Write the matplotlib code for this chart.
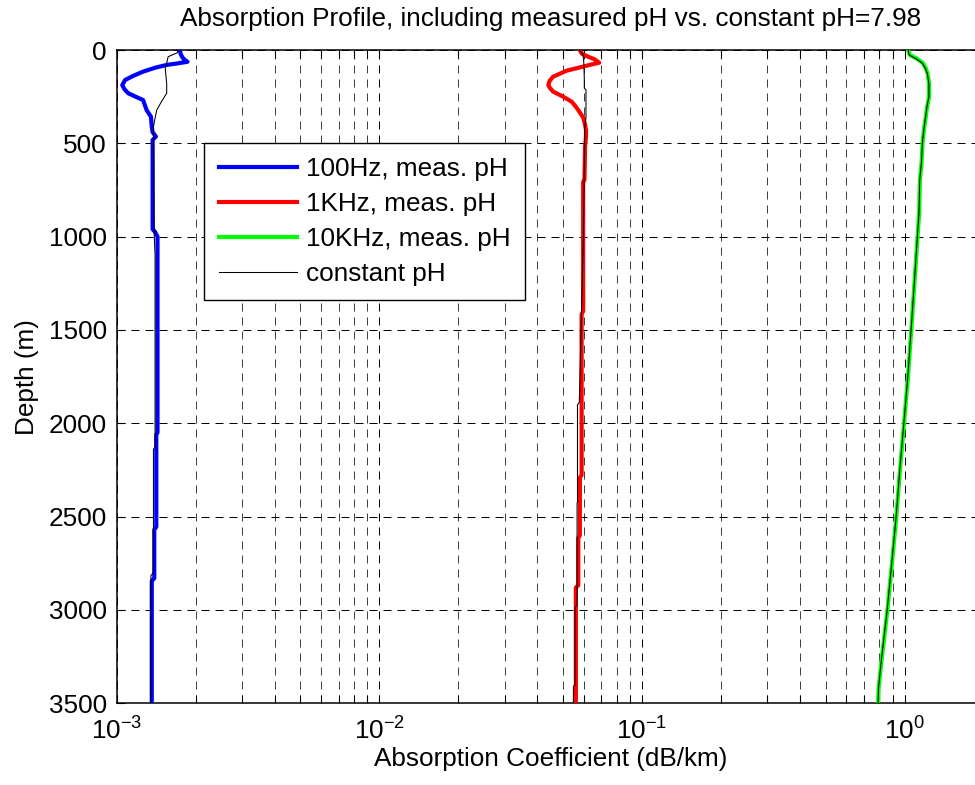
import matplotlib
matplotlib.use("Agg")
import matplotlib.pyplot as plt
from matplotlib.ticker import LogLocator, FixedLocator, NullFormatter

plt.rcParams["font.family"] = ["Liberation Sans", "DejaVu Sans"]
plt.rcParams["mathtext.fontset"] = "custom"
plt.rcParams["mathtext.rm"] = "Liberation Sans"
plt.rcParams["mathtext.it"] = "Liberation Sans:italic"
plt.rcParams["mathtext.bf"] = "Liberation Sans:bold"

# ---- absorption profiles (dB/km) versus depth (m) ----
depth_100 = [0, 20, 40, 54, 63, 72, 80, 95, 116, 140, 161, 188, 210, 232, 250, 268,
             295, 322, 357, 411, 440, 464, 482, 500, 960, 975, 1000, 2050, 2060,
             2555, 2570, 2830, 2845, 3500]
alpha_100 = [1.74e-3, 1.75e-3, 1.78e-3, 1.82e-3, 1.86e-3, 1.70e-3, 1.55e-3, 1.40e-3,
             1.26e-3, 1.15e-3, 1.076e-3, 1.05e-3, 1.07e-3, 1.107e-3, 1.18e-3, 1.26e-3,
             1.28e-3, 1.30e-3, 1.35e-3, 1.36e-3, 1.37e-3, 1.41e-3, 1.37e-3, 1.37e-3,
             1.37e-3, 1.40e-3, 1.43e-3, 1.43e-3, 1.415e-3, 1.415e-3, 1.39e-3, 1.39e-3,
             1.36e-3, 1.36e-3]

depth_100c = [0, 15, 36, 71, 98, 179, 232, 277, 322, 366, 411, 1000, 1100, 2126,
              2140, 2800, 2815, 3500]
alpha_100c = [1.716e-3, 1.70e-3, 1.57e-3, 1.55e-3, 1.53e-3, 1.55e-3, 1.55e-3, 1.48e-3,
              1.42e-3, 1.40e-3, 1.38e-3, 1.39e-3, 1.40e-3, 1.40e-3, 1.38e-3, 1.38e-3,
              1.35e-3, 1.35e-3]

depth_1k = [0, 20, 36, 50, 68, 78, 89, 111, 143, 165, 188, 205, 223, 250, 277, 300,
            322, 361, 400, 429, 464, 518, 697, 706, 1400, 1415, 2278, 2290, 2600,
            2615, 2868, 2880, 3500]
alpha_1k = [0.0580, 0.0590, 0.0624, 0.0660, 0.0687, 0.0640, 0.0597, 0.0516, 0.0459,
            0.0445, 0.0440, 0.0447, 0.0459, 0.0501, 0.0540, 0.0557, 0.0572, 0.0597,
            0.0607, 0.0612, 0.0612, 0.0607, 0.0604, 0.0597, 0.0597, 0.0589, 0.0589,
            0.0580, 0.0580, 0.0572, 0.0572, 0.0560, 0.0560]

depth_1kc = [0, 20, 60, 150, 205, 214, 361, 420, 500, 1000, 1768, 1889, 1900, 2421,
             2430, 2975, 2985, 3400, 3410, 3500]
alpha_1kc = [0.0578, 0.0595, 0.0600, 0.0603, 0.0603, 0.0612, 0.0612, 0.0605, 0.0605,
             0.0598, 0.0580, 0.0577, 0.0568, 0.0568, 0.0566, 0.0566, 0.0556, 0.0556,
             0.0548, 0.0548]

depth_10k = [0, 27, 45, 71, 100, 125, 179, 250, 304, 357, 429, 500, 607, 697, 875,
             950, 1000, 1250, 1500, 1750, 2000, 2250, 2500, 2750, 3000, 3250, 3420,
             3500]
alpha_10k = [1.031, 1.047, 1.110, 1.176, 1.205, 1.222, 1.239, 1.239, 1.218, 1.204,
             1.184, 1.170, 1.160, 1.143, 1.136, 1.126, 1.12, 1.09, 1.06, 1.03, 0.995,
             0.96, 0.93, 0.895, 0.86, 0.82, 0.796, 0.793]

depth_10kc = depth_10k
alpha_10kc = [1.031, 1.040, 1.100, 1.168, 1.200, 1.220, 1.237, 1.237, 1.216, 1.202,
              1.182, 1.168, 1.158, 1.141, 1.134, 1.124, 1.118, 1.088, 1.058, 1.028,
              0.993, 0.958, 0.928, 0.893, 0.858, 0.818, 0.795, 0.792]

labels = ["100Hz, meas. pH", "1KHz, meas. pH", "10KHz, meas. pH", "constant pH"]
title = "Absorption Profile, including measured pH vs. constant pH=7.98"
depth_ticks = [0, 500, 1000, 1500, 2000, 2500, 3000, 3500]

FS = 18.8
W, H = 975, 785

fig = plt.figure(figsize=(W / 100, H / 100), dpi=100)
ax = fig.add_axes([116.7 / W, 1 - 703.3 / H, (983.7 - 116.7) / W, (703.3 - 50) / H])

ax.plot(alpha_100, depth_100, color=(0, 0, 1), lw=3.0, label=labels[0], zorder=3)
ax.plot(alpha_1k, depth_1k, color=(1, 0, 0), lw=3.0, label=labels[1], zorder=3)
ax.plot(alpha_10k, depth_10k, color=(0, 1, 0), lw=3.0, label=labels[2], zorder=3)
ax.plot(alpha_100c, depth_100c, color="k", lw=0.75, label=labels[3], zorder=4)
ax.plot(alpha_1kc, depth_1kc, color="k", lw=0.75, zorder=4)
ax.plot(alpha_10kc, depth_10kc, color="k", lw=0.75, zorder=4)

ax.set_xscale("log")
ax.set_xlim(1e-3, 2)
ax.set_ylim(3500, 0)
ax.yaxis.set_major_locator(FixedLocator(depth_ticks))
ax.xaxis.set_major_locator(LogLocator(base=10, numticks=10))
ax.xaxis.set_minor_locator(LogLocator(base=10, subs=range(2, 10), numticks=20))
ax.xaxis.set_minor_formatter(NullFormatter())

dash = (0, (8, 6))
ax.set_axisbelow(True)
ax.grid(which="major", axis="both", color="k", linestyle=dash, linewidth=0.72)
ax.grid(which="minor", axis="x", color="0.25", linestyle=dash, linewidth=0.72)

ax.tick_params(which="both", direction="in", top=True, right=True, width=0.8,
               labelsize=FS)
ax.tick_params(which="major", length=6, pad=7)
ax.tick_params(which="minor", length=6)
ax.tick_params(axis="x", which="major", pad=10)
for s in ax.spines.values():
    s.set_linewidth(1.1)

ax.set_title(title, fontsize=FS, pad=17)
ax.set_xlabel("Absorption Coefficient (dB/km)", fontsize=FS, labelpad=2)
ax.set_ylabel("Depth (m)", fontsize=FS, labelpad=7)

leg = ax.legend(loc="upper left", bbox_to_anchor=(204.3 / W, 1 - 142.7 / H),
                bbox_transform=fig.transFigure, fontsize=FS, frameon=True,
                fancybox=False, edgecolor="k", framealpha=1, handlelength=3.0,
                handletextpad=0.35, borderpad=0.55, labelspacing=0.42,
                borderaxespad=0)
leg.get_frame().set_linewidth(1.0)

fig.savefig("out.png", dpi=100)
